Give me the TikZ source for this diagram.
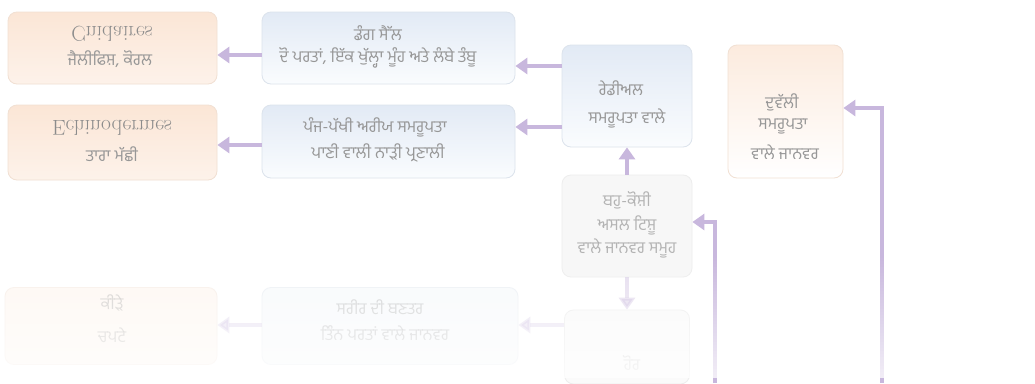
\documentclass[tikz,border=0pt]{standalone}
\usepackage{graphicx}
\usepackage{fontspec}
\newfontfamily\pa[Script=Gurmukhi]{Hind Jalandhar}
\usetikzlibrary{arrows.meta}
\definecolor{arr}{HTML}{C8B7DD}
\definecolor{txt}{HTML}{8C8C8C}
\definecolor{gtxt}{HTML}{979797}
\definecolor{obrd}{HTML}{F1E0D3}
\definecolor{otop}{HTML}{FBE6D6}
\definecolor{obot}{HTML}{FDF2EA}
\definecolor{bbrd}{HTML}{DCE3EC}
\definecolor{btop}{HTML}{E2EAF5}
\definecolor{bbot}{HTML}{FAFCFE}
\newcommand{\flipv}[1]{\scalebox{1}[-1]{#1}}
\begin{document}
\begin{tikzpicture}[x=1pt,y=-1pt,
  box/.style={rounded corners=9pt, line width=0.8pt, inner sep=0pt, minimum width=#1},
  obox/.style={box=#1, draw=obrd, top color=otop, bottom color=obot},
  bbox/.style={box=#1, draw=bbrd, top color=btop, bottom color=bbot},
  gbox/.style={box=#1, draw=black!7, fill=black!3},
  lat/.style={text=txt, font=\fontsize{21.5}{22}\selectfont, inner sep=0pt},
  gur/.style={text=gtxt, font=\pa\fontsize{16.5}{18}\selectfont, inner sep=0pt},
  arrow/.style={draw=arr, line width=4.5pt, -{Triangle[length=12pt,width=16pt]}},
]
\useasboundingbox (0,0) rectangle (1035,383);
\fill[white] (0,0) rectangle (1035,383);

% main boxes
\node[obox=209pt, minimum height=72pt] (A) at (112.5,48) {};
\node[bbox=253pt, minimum height=72pt] (B) at (388.5,48) {};
\node[obox=209pt, minimum height=75pt] (C) at (112.5,142.5) {};
\node[bbox=253pt, minimum height=73pt] (D) at (388.5,141.5) {};
\node[bbox=130pt, minimum height=102pt] (E) at (627,96) {};
\node[box=115pt, minimum height=133pt, draw=obrd, top color=otop!80, bottom color=white] (F) at (785.5,111.5) {};
\node[gbox=130pt, minimum height=102pt] (G) at (627,226) {};

% reflected boxes
\node[box=212pt, minimum height=77pt, draw=obrd!50, fill=otop!30] (R1) at (111,326) {};
\node[box=256pt, minimum height=77pt, draw=bbrd!50, fill=btop!25] (R2) at (390,326) {};
\node[box=125pt, minimum height=74pt, draw=black!7, fill=black!2] (R3) at (627,347) {};

% texts
\node[lat] (tA1) at (112,34) {\flipv{Cnidaires}};
\node[gur] (tA2) at (110,59) {ਜੈਲੀਫਿਸ਼, ਕੋਰਲ};
\node[gur] (tB1) at (378,33) {ਡੰਗ ਸੈੱਲ};
\node[gur] (tB2) at (378,58) {ਦੋ ਪਰਤਾਂ, ਇੱਕ ਖੁੱਲ੍ਹਾ ਮੂੰਹ ਅਤੇ ਲੰਬੇ ਤੰਬੂ};
\node[lat] (tC1) at (112,128) {\flipv{Echinodermes}};
\node[gur] (tC2) at (112,154) {ਤਾਰਾ ਮੱਛੀ};
\node[gur] (tD1) at (375,127) {ਪੰਜ-ਪੱਖੀ ਅਰੀਯ ਸਮਰੂਪਤਾ};
\node[gur] (tD2) at (378,153) {ਪਾਣੀ ਵਾਲੀ ਨਾੜੀ ਪ੍ਰਣਾਲੀ};
\node[gur] (tE1) at (621,88) {ਰੇਡੀਅਲ};
\node[gur] (tE2) at (627,118) {ਸਮਰੂਪਤਾ ਵਾਲੇ};
\node[gur] (tF1) at (782,102) {ਦੁਵੱਲੀ};
\node[gur] (tF2) at (783,127) {ਸਮਰੂਪਤਾ};
\node[gur] (tF3) at (785,152) {ਵਾਲੇ ਜਾਨਵਰ};
\node[gur, opacity=0.7] (tG1) at (627,200) {ਬਹੁ-ਕੋਸ਼ੀ};
\node[gur, opacity=0.7] (tG2) at (627,225) {ਅਸਲ ਟਿਸ਼ੂ};
\node[gur, opacity=0.7] (tG3) at (627,248) {ਵਾਲੇ ਜਾਨਵਰ ਸਮੂਹ};
\node[gur, opacity=0.4] (tR11) at (112,303) {ਕੀੜੇ};
\node[gur, opacity=0.4] (tR12) at (112,335) {ਚਪਟੇ};
\node[gur, opacity=0.4] (tR21) at (380,307) {ਸਰੀਰ ਦੀ ਬਣਤਰ};
\node[gur, opacity=0.4] (tR22) at (385,333) {ਤਿੰਨ ਪਰਤਾਂ ਵਾਲੇ ਜਾਨਵਰ};
\node[gur, opacity=0.3] (tR3) at (632,363) {ਹੋਰ};

% connectors
\draw[arrow] ([yshift=-7pt]B.west) -- ([yshift=-7pt]A.east);
\draw[arrow] (E.west |- 0,66) -- (B.east |- 0,66);
\draw[arrow] (D.west |- 0,145) -- (C.east |- 0,145);
\draw[arrow] (E.west |- 0,127) -- (D.east |- 0,127);
\draw[arrow] (G.north) -- (E.south);
\coordinate (s1) at (715,383);
\coordinate (s2) at (882,383);
\draw[arrow] (s1) |- (G.east |- 0,222);
\draw[arrow] (s2) |- (F.east |- 0,108);
\draw[arrow, opacity=0.45] (G.south) -- (R3.north);
\draw[arrow, opacity=0.35] (R2.west |- 0,325) -- (R1.east |- 0,325);
\draw[arrow, opacity=0.35] (R3.west |- 0,325) -- (R2.east |- 0,325);

% fading toward bottom
\foreach \i in {0,...,40} {
  \pgfmathsetmacro{\op}{0.75*\i/40}
  \fill[white, opacity=\op] (0,{255+3*\i}) rectangle (1035,{258.2+3*\i});
}
\end{tikzpicture}
\end{document}
